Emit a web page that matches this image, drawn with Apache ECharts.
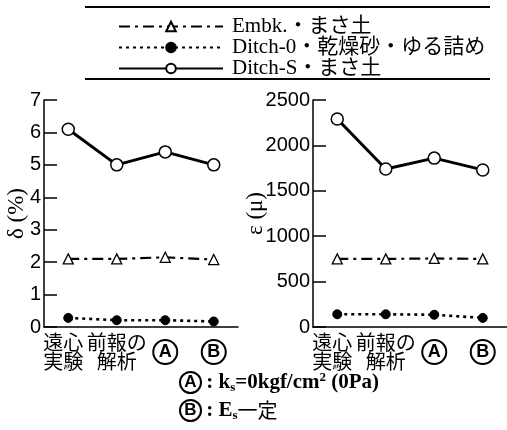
<!DOCTYPE html>
<html><head><meta charset="utf-8">
<script src="https://cdn.jsdelivr.net/npm/echarts@6/dist/echarts.min.js"></script>
<style>html,body{margin:0;padding:0;background:#fff}#c{width:507px;height:430px}</style>
</head><body><div id="c"></div>
<script>
const categories = ['遠心\n実験', '前報の\n解析', 'Ⓐ', 'Ⓑ'];
const seriesNames = ['Embk.・まさ土', 'Ditch-0・乾燥砂・ゆる詰め', 'Ditch-S・まさ土'];
// delta (%)
const deltaEmbk = [2.1, 2.1, 2.15, 2.08];
const deltaDitch0 = [0.28, 0.21, 0.21, 0.17];
const deltaDitchS = [6.1, 5.0, 5.4, 5.0];
// epsilon (mu)
const epsEmbk = [750, 750, 755, 750];
const epsDitch0 = [140, 140, 135, 100];
const epsDitchS = [2290, 1740, 1860, 1730];
const deltaTicks = {min: 0, max: 7, interval: 1};
const epsTicks = {min: 0, max: 2500, interval: 500};

const SERIF = "'Liberation Serif','Noto Sans CJK JP',serif";
const SANS = "'Liberation Sans','Noto Sans CJK JP',sans-serif";
const CJK = "'Noto Sans CJK JP',sans-serif";

const styles = [
  {lineStyle: {color: '#000', width: 2.2, type: [11, 5, 3, 5]}, symbol: 'triangle', symbolSize: 10,
   itemStyle: {color: '#fff', borderColor: '#000', borderWidth: 1.3}},
  {lineStyle: {color: '#000', width: 2.6, type: [3, 4]}, symbol: 'circle', symbolSize: 9,
   itemStyle: {color: '#000', borderColor: '#000', borderWidth: 1}},
  {lineStyle: {color: '#000', width: 3, type: 'solid'}, symbol: 'circle', symbolSize: 12,
   itemStyle: {color: '#fff', borderColor: '#000', borderWidth: 1.5}}
];

function mk(i, data, idx) {
  return Object.assign({name: seriesNames[i], type: 'line', data: data, xAxisIndex: idx, yAxisIndex: idx,
    showSymbol: true, animation: false, emphasis: {disabled: true}}, JSON.parse(JSON.stringify(styles[i])));
}

function circStyle(d, fs) {
  return {width: d, height: d, lineHeight: d, borderRadius: d / 2 + 1, borderWidth: 2, borderColor: '#000',
    align: 'center', fontFamily: SANS, fontSize: fs, fontWeight: 'bold', color: '#000'};
}
const circAxis = circStyle(24, 18);
const circNote = circStyle(21, 17);

function catData() {
  return categories.map(function (c, i) {
    return i === 0 ? {value: c, textStyle: {padding: [0, 10, 0, 0]}} : c;
  });
}

function xAxis(idx) {
  return {type: 'category', gridIndex: idx, data: catData(), boundaryGap: true,
    axisLine: {lineStyle: {color: '#000', width: 1.5}},
    axisTick: {inside: true, length: 8, alignWithLabel: true, lineStyle: {color: '#000', width: 1.5}},
    axisLabel: {margin: 6, color: '#000', fontFamily: CJK, fontSize: 20, lineHeight: 19, interval: 0,
      formatter: function (v) { if (v === 'Ⓐ') return '{p|}\n{c|A}'; if (v === 'Ⓑ') return '{p|}\n{c|B}'; return v; },
      rich: {c: circAxis, p: {height: 7, lineHeight: 7}}},
    splitLine: {show: false}};
}
function yAxis(idx, t, name, gap) {
  return {type: 'value', gridIndex: idx, min: t.min, max: t.max, interval: t.interval,
    name: name, nameLocation: 'middle', nameGap: gap, nameRotate: 90, nameMoveOverlap: false,
    nameTextStyle: {color: '#000', fontFamily: SERIF, fontSize: 23},
    axisLine: {show: true, lineStyle: {color: '#000', width: 1.5}},
    axisTick: {show: true, inside: true, length: 13, lineStyle: {color: '#000', width: 1.5}},
    axisLabel: {margin: 3, color: '#000', fontFamily: SANS, fontSize: 20, formatter: function (v) { return String(v); }},
    splitLine: {show: false}};
}

const chart = echarts.init(document.getElementById('c'), null, {renderer: 'canvas'});
chart.setOption({
  backgroundColor: '#fff',
  animation: false,
  grid: [
    {left: 44, width: 194, top: 100, height: 227},
    {left: 313, width: 194, top: 100, height: 227}
  ],
  xAxis: [xAxis(0), xAxis(1)],
  yAxis: [yAxis(0, deltaTicks, 'δ (%)', 16), yAxis(1, epsTicks, 'ε (μ)', 46)],
  legend: {orient: 'vertical', left: 113, top: 11, itemWidth: 104, itemHeight: 12, itemGap: 0,
    data: seriesNames, selectedMode: false,
    textStyle: {color: '#000', fontFamily: SERIF, fontSize: 21, padding: [0, 0, 0, 4]}},
  series: [
    mk(0, deltaEmbk, 0), mk(1, deltaDitch0, 0), mk(2, deltaDitchS, 0),
    mk(0, epsEmbk, 1), mk(1, epsDitch0, 1), mk(2, epsDitchS, 1)
  ],
  graphic: [
    {type: 'line', shape: {x1: 85, y1: 7, x2: 490, y2: 7}, style: {stroke: '#000', lineWidth: 1.8}},
    {type: 'line', shape: {x1: 85, y1: 79, x2: 490, y2: 79}, style: {stroke: '#000', lineWidth: 1.8}},
    {type: 'text', left: 179, top: 371, style: {
      text: '{c|A}{t| : k}{s|s}{t|=0kgf/cm}{u|2}{t| (0Pa)}',
      rich: {c: circNote, t: {fontFamily: SERIF, fontSize: 21, fontWeight: 'bold', fill: '#000'},
        s: {fontFamily: SERIF, fontSize: 13, fontWeight: 'bold', fill: '#000', padding: [10, 0, 0, 0]},
        u: {fontFamily: SERIF, fontSize: 13, fontWeight: 'bold', fill: '#000', padding: [0, 0, 10, 0]}}}},
    {type: 'text', left: 179, top: 399, style: {
      text: '{c|B}{t| : E}{s|s}{j|一定}',
      rich: {c: circNote, t: {fontFamily: SERIF, fontSize: 21, fontWeight: 'bold', fill: '#000'},
        s: {fontFamily: SERIF, fontSize: 13, fontWeight: 'bold', fill: '#000', padding: [10, 0, 0, 0]},
        j: {fontFamily: CJK, fontSize: 20, fill: '#000'}}}}
  ]
});
</script></body></html>
